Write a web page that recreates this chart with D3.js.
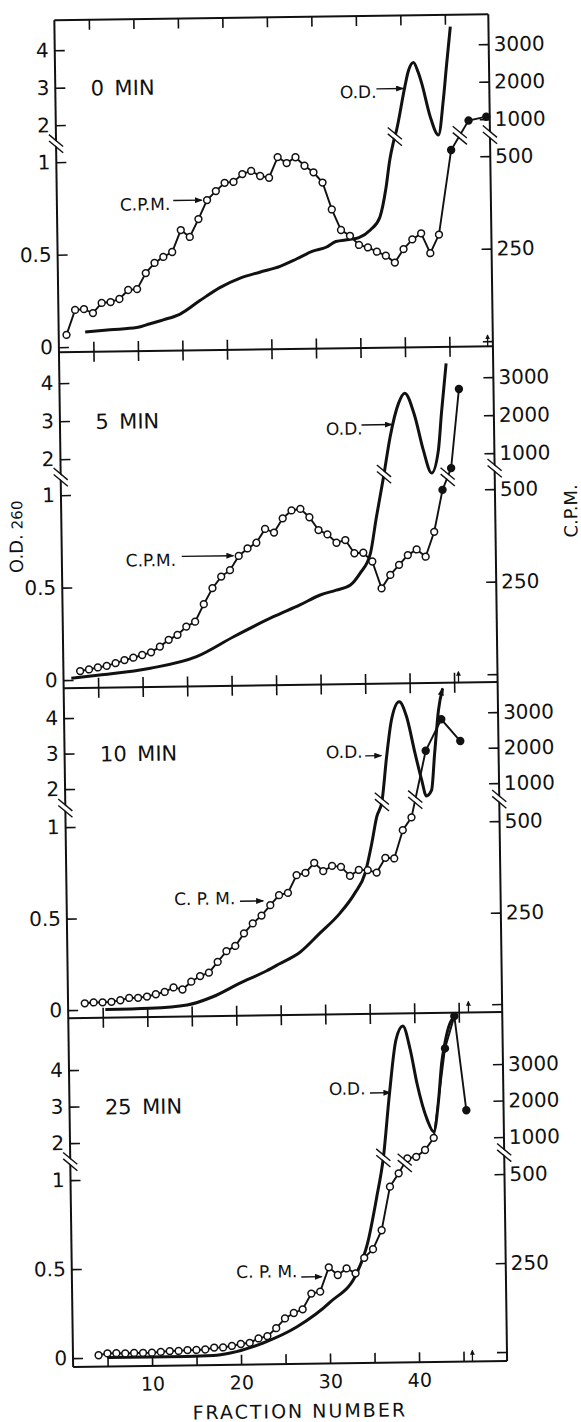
<!DOCTYPE html>
<html>
<head>
<meta charset="utf-8">
<script src="https://cdn.jsdelivr.net/npm/d3@7"></script>
<style>
body { margin: 0; background: #fff; }
svg { display: block; }
text { font-family: "DejaVu Sans", sans-serif; fill: #111; }
</style>
</head>
<body>
<svg id="chart" width="581" height="1422"></svg>
<script>
// ticks and labels
const fracTicks = [5, 10, 15, 20, 25, 30, 35, 40, 45];
const fracLabels = [10, 20, 30, 40];
const odTicks = [0, 0.5, 1, 2, 3, 4];
const cpmTicks = [0, 250, 500, 1000, 2000, 3000];
const panelNames = ["0\u2002MIN", "5\u2002MIN", "10\u2002MIN", "25\u2002MIN"];
const cpmNames = ["C.P.M.", "C.P.M.", "C. P. M.", "C. P. M."];

// C.P.M., open circles: first fraction, then one value per fraction
const cpmStart = [2, 3, 3, 4];
const cpm0 = [33, 100, 102, 91, 118, 120, 128, 152, 154, 197, 224, 240, 253, 312, 293, 341, 392, 416, 438, 440,
    461, 469, 455, 450, 527, 489, 522, 481, 463, 435, 362, 306, 290, 265, 258, 246, 235, 216, 252, 278, 294, 240, 290];
const cpm5 = [24, 28, 33, 37, 44, 52, 58, 65, 72, 87, 105, 118, 140, 153, 200, 243, 274, 291, 329, 349,
    364, 401, 391, 429, 450, 454, 431, 396, 384, 361, 368, 332, 333, 309, 236, 272, 299, 325, 340, 320, 387];
const cpm10 = [18, 20, 20, 21, 25, 31, 31, 34, 40, 46, 58, 52, 73, 88, 97, 126, 155, 169, 203, 230,
    251, 279, 306, 312, 360, 366, 393, 370, 384, 381, 356, 372, 371, 364, 404, 402, 479, 565];
const cpm25 = [7, 12, 12, 11, 12, 12, 12, 14, 16, 16, 18, 18, 19, 24, 24, 28, 33, 36, 48, 54,
    76, 103, 118, 128, 172, 177, 245, 223, 241, 227, 270, 294, 347, 469, 530, 730, 750, 840, 1004];

// C.P.M., filled circles (top of the gradient)
const topFrac = [[45.5, 47.5, 49.5], [44, 45, 46], [41.7, 43.5, 45.6], [43.4, 44.5, 45.7]];
const topCpm = [[590, 985, 1067], [500, 800, 2700], [1940, 2820, 2200], [3450, 4330, 1750]];

// O.D. 260 curves: [fraction, O.D.]
const od0 = [[4.1, 0.08], [6.9, 0.09], [9.9, 0.1], [11.4, 0.12], [12.9, 0.14], [14.8, 0.17], [17, 0.24], [19.3, 0.31],
    [21.6, 0.36], [23.8, 0.39], [26.1, 0.42], [28, 0.46], [29.8, 0.5], [31.3, 0.52], [32.4, 0.55], [33.9, 0.56],
    [35, 0.57], [36.3, 0.61], [37.4, 0.68], [38.1, 0.83], [38.6, 0.99], [39, 1.39], [39.4, 1.74], [40.4, 2.9],
    [40.8, 3.3], [41.4, 3.54], [41.9, 3.29], [42.3, 2.98], [43.2, 2.09], [44.1, 1.59], [44.7, 2.53], [45.1, 3.42], [45.6, 4.48]];
const od5 = [[2, 0.01], [5.2, 0.025], [10.9, 0.058], [16.1, 0.117], [20.3, 0.222], [24.8, 0.327], [27.8, 0.389],
    [30.1, 0.441], [31.9, 0.466], [33.5, 0.493], [34.6, 0.555], [35.8, 0.662], [36.5, 0.85], [37.4, 1.39], [38.2, 2.47],
    [39.2, 3.35], [39.9, 3.61], [41, 3.0], [41.9, 2.11], [42.8, 1.47], [43.6, 2.1], [44, 3.07], [44.6, 4.38]];
const od10 = [[5.3, 0], [10.3, 0.004], [14.5, 0.019], [17.4, 0.062], [20.4, 0.133], [23.5, 0.2], [24.9, 0.236],
    [27.3, 0.3], [29.5, 0.4], [31.8, 0.508], [33.5, 0.616], [34.7, 0.725], [35.5, 0.889], [36.1, 1.16], [36.7, 1.55],
    [37.3, 2.79], [37.9, 3.82], [38.8, 4.33], [39.6, 3.91], [40.5, 2.87], [41.2, 2.12], [41.7, 1.69], [42.3, 1.84],
    [42.7, 2.86], [43.2, 4.08], [43.7, 4.69]];
const od25 = [[5, 0], [9.8, 0], [13.9, 0], [16.9, 0.003], [18.8, 0.016], [22.5, 0.07], [26.3, 0.157], [30.1, 0.294],
    [33.2, 0.461], [34.4, 0.623], [35.5, 0.881], [36.3, 1.48], [37.1, 3.25], [37.9, 4.7], [38.7, 5.08], [39.5, 4.42],
    [40.2, 3.5], [41.3, 2.5], [42, 2.17], [42.6, 3.04], [43, 4.04], [43.4, 4.6], [44, 5.14], [44.5, 5.3]];

// where the curves are broken (fraction), and the gradient-top arrow
const odBreak = [39.2, 37.45, 36.7, 36.3];
const cpmBreak = [46.5, 44.6, 40.45, 38.7];
const topArrow = [49.3, 45.5, 46.1, 46.0];

// label + arrow of each curve: [text fraction, text O.D., arrow from, arrow to, arrow O.D.]
const cpmNote = [[8.2, 0.733, 14.2, 17.4, 0.784], [8.3, 0.609, 14.6, 20.4, 0.66],
    [13.2, 0.566, 20.6, 23.2, 0.582], [19.6, 0.437, 26.9, 29.2, 0.438]];
const odNote = [[33.1, 2.61, 37.2, 40.2, 2.85], [31.0, 2.54, 35.0, 38.4, 2.79],
    [30.5, 2.77, 34.9, 36.7, 2.82], [30.3, 3.22, 34.9, 37.2, 3.26]];

const cpmOpen = [cpm0, cpm5, cpm10, cpm25];
const odCurves = [od0, od5, od10, od25];

// layout (pixels of each panel: frame and the 0, 1, 2, 4 levels)
const panels = [
    {top: 17, bottom: 349, y0: 344, y1: 159, y2: 122, y4: 47},
    {top: 349, bottom: 685, y0: 677, y1: 492, y2: 456, y4: 380},
    {top: 685, bottom: 1015, y0: 1007, y1: 824, y2: 786, y4: 715},
    {top: 1015, bottom: 1364, y0: 1355, y1: 1177, y2: 1140, y4: 1067}
];
const left = 64, right = 498;
const ink = "#111";
const font = '"DejaVu Sans", sans-serif';

let svg = d3.select('#chart');
let defs = svg.append('defs');
defs.append('marker').attr('id', 'head')
    .attr('viewBox', '0 0 8 6').attr('refX', 7).attr('refY', 3)
    .attr('markerWidth', 8).attr('markerHeight', 6)
    .attr('markerUnits', 'userSpaceOnUse').attr('orient', 'auto')
    .append('path').attr('d', 'M0,0L8,3L0,6Z').attr('fill', ink);
defs.append('marker').attr('id', 'tip')
    .attr('viewBox', '0 0 6 6').attr('refX', 5).attr('refY', 3)
    .attr('markerWidth', 5).attr('markerHeight', 5)
    .attr('markerUnits', 'userSpaceOnUse').attr('orient', 'auto')
    .append('path').attr('d', 'M0,0L6,3L0,6Z').attr('fill', ink);

// the scanned figure sits slightly tilted
let root = svg.append('g').attr('transform', 'rotate(-0.8,290,711)');

let x = d3.scaleLinear().domain([0, 50]).range([54, 499]);

function breakMark(g, cx, cy) {
    g.append('line')
        .attr('x1', cx - 7).attr('y1', cy - 6).attr('x2', cx + 7).attr('y2', cy + 6)
        .attr('stroke', '#fff').attr('stroke-width', 3.6);
    [-3.2, 3.2].forEach(function (dy) {
        g.append('line')
            .attr('x1', cx - 7).attr('y1', cy - 6 + dy).attr('x2', cx + 7).attr('y2', cy + 6 + dy)
            .attr('stroke', ink).attr('stroke-width', 1.4);
    });
}

// y pixel on a polyline at a given fraction
function yAt(pts, f) {
    for (let k = 0; k < pts.length - 1; k++) {
        if (pts[k][0] <= f && f <= pts[k + 1][0]) {
            let t = (f - pts[k][0]) / (pts[k + 1][0] - pts[k][0]);
            return pts[k][1] + t * (pts[k + 1][1] - pts[k][1]);
        }
    }
    return pts[pts.length - 1][1];
}

// frame
root.append('line').attr('x1', left).attr('x2', left)
    .attr('y1', panels[0].top).attr('y2', panels[3].bottom)
    .attr('stroke', ink).attr('stroke-width', 2);
root.append('line').attr('x1', right).attr('x2', right)
    .attr('y1', panels[0].top).attr('y2', panels[3].bottom)
    .attr('stroke', ink).attr('stroke-width', 2);
root.append('line').attr('x1', left).attr('x2', right)
    .attr('y1', panels[0].top).attr('y2', panels[0].top)
    .attr('stroke', ink).attr('stroke-width', 2);

panels.forEach(function (p, i) {
    let od = d3.scaleLinear().domain([0, 1, 2, 4]).range([p.y0, p.y1, p.y2, p.y4]);
    let cpm = d3.scaleLinear().domain([0, 500, 1000, 3000]).range([p.y0, p.y1, p.y2, p.y4]);
    let g = root.append('g');

    g.append('line').attr('x1', left).attr('x2', right)
        .attr('y1', p.bottom).attr('y2', p.bottom)
        .attr('stroke', ink).attr('stroke-width', 2);

    // x ticks, top and bottom of the panel
    g.append('g').attr('transform', 'translate(0,' + p.top + ')')
        .call(d3.axisTop(x).tickValues(fracTicks).tickSizeInner(-10).tickSizeOuter(0).tickFormat(''))
        .call(a => a.select('.domain').remove())
        .selectAll('line').attr('stroke', ink).attr('stroke-width', 1.6);
    let bottomAxis = g.append('g').attr('transform', 'translate(0,' + p.bottom + ')')
        .call(d3.axisBottom(x).tickValues(fracTicks).tickSizeInner(-10).tickSizeOuter(0).tickPadding(11)
            .tickFormat(d => (i === 3 && fracLabels.includes(d)) ? d : ''))
        .call(a => a.select('.domain').remove());
    bottomAxis.selectAll('line').attr('stroke', ink).attr('stroke-width', 1.6);
    bottomAxis.selectAll('text').attr('font-size', 19).attr('font-family', font).attr('fill', ink);

    // O.D. axis
    let la = g.append('g').attr('transform', 'translate(' + left + ',0)')
        .call(d3.axisLeft(od).tickValues(odTicks).tickSizeInner(-10).tickSizeOuter(0).tickPadding(6)
            .tickFormat(d => String(d)))
        .call(a => a.select('.domain').remove());
    la.selectAll('line').attr('stroke', ink).attr('stroke-width', 1.6);
    la.selectAll('text').attr('font-size', 20).attr('font-family', font).attr('fill', ink);

    // C.P.M. axis
    let ra = g.append('g').attr('transform', 'translate(' + right + ',0)')
        .call(d3.axisRight(cpm).tickValues(cpmTicks).tickSizeInner(-10).tickSizeOuter(0).tickPadding(5)
            .tickFormat(d => d ? String(d) : ''))
        .call(a => a.select('.domain').remove());
    ra.selectAll('line').attr('stroke', ink).attr('stroke-width', 1.6);
    ra.selectAll('text').attr('font-size', 20).attr('font-family', font).attr('fill', ink);

    // panel name
    g.append('text').attr('x', x(5.1)).attr('y', od(3)).attr('dy', '0.4em')
        .attr('font-size', 21).text(panelNames[i]);

    // O.D. curve
    let odLine = d3.line().x(d => x(d[0])).y(d => od(d[1])).curve(d3.curveMonotoneX);
    let odPath = g.append('path').attr('d', odLine(odCurves[i]))
        .attr('fill', 'none').attr('stroke', ink).attr('stroke-width', 3)
        .attr('stroke-linejoin', 'round');
    if (i === 2) odPath.attr('marker-end', 'url(#head)');

    // C.P.M. line and points
    let openPts = cpmOpen[i].map((v, k) => [cpmStart[i] + k, v]);
    let topPts = topFrac[i].map((f, k) => [f, topCpm[i][k]]);
    let allPts = openPts.concat(topPts);
    g.append('path')
        .attr('d', d3.line().x(d => x(d[0])).y(d => cpm(d[1]))(allPts))
        .attr('fill', 'none').attr('stroke', ink).attr('stroke-width', 1.9);
    g.selectAll('circle.open').data(openPts).enter().append('circle')
        .attr('cx', d => x(d[0])).attr('cy', d => cpm(d[1])).attr('r', 3.4)
        .attr('fill', '#fff').attr('stroke', ink).attr('stroke-width', 1.5);
    g.selectAll('circle.full').data(topPts).enter().append('circle')
        .attr('cx', d => x(d[0])).attr('cy', d => cpm(d[1])).attr('r', 4.2)
        .attr('fill', ink);

    // scale breaks
    let odPix = odCurves[i].map(d => [d[0], od(d[1])]);
    let cpmPix = allPts.map(d => [d[0], cpm(d[1])]);
    let mid = od(1.5);
    breakMark(g, left, mid);
    breakMark(g, right, mid - 3);
    breakMark(g, x(odBreak[i]), yAt(odPix, odBreak[i]));
    breakMark(g, x(cpmBreak[i]), yAt(cpmPix, cpmBreak[i]));

    // curve labels
    let c = cpmNote[i], o = odNote[i];
    g.append('text').attr('x', x(c[0])).attr('y', od(c[1])).attr('font-size', 17).text(cpmNames[i]);
    g.append('line').attr('x1', x(c[2])).attr('x2', x(c[3])).attr('y1', od(c[4])).attr('y2', od(c[4]))
        .attr('stroke', ink).attr('stroke-width', 1.4).attr('marker-end', 'url(#head)');
    g.append('text').attr('x', x(o[0])).attr('y', od(o[1])).attr('font-size', 17).text('O.D.');
    g.append('line').attr('x1', x(o[2])).attr('x2', x(o[3])).attr('y1', od(o[4])).attr('y2', od(o[4]))
        .attr('stroke', ink).attr('stroke-width', 1.4).attr('marker-end', 'url(#head)');

    // top of gradient
    g.append('line').attr('x1', x(topArrow[i])).attr('x2', x(topArrow[i]))
        .attr('y1', p.bottom).attr('y2', p.bottom - 11)
        .attr('stroke', ink).attr('stroke-width', 1.3).attr('marker-end', 'url(#tip)');
});

// axis titles
let yt = root.append('text').attr('transform', 'translate(25,533) rotate(-90)')
    .attr('text-anchor', 'middle').attr('font-size', 18);
yt.append('tspan').text('O.D.');
yt.append('tspan').attr('dx', 5).attr('font-size', 15).text('260');

root.append('text').attr('transform', 'translate(580,515) rotate(-90)')
    .attr('text-anchor', 'middle').attr('font-size', 18).text('C.P.M.');

root.append('text').attr('x', 290).attr('y', 1418)
    .attr('text-anchor', 'middle').attr('font-size', 19).attr('letter-spacing', 2)
    .text('FRACTION NUMBER');
</script>
</body>
</html>
